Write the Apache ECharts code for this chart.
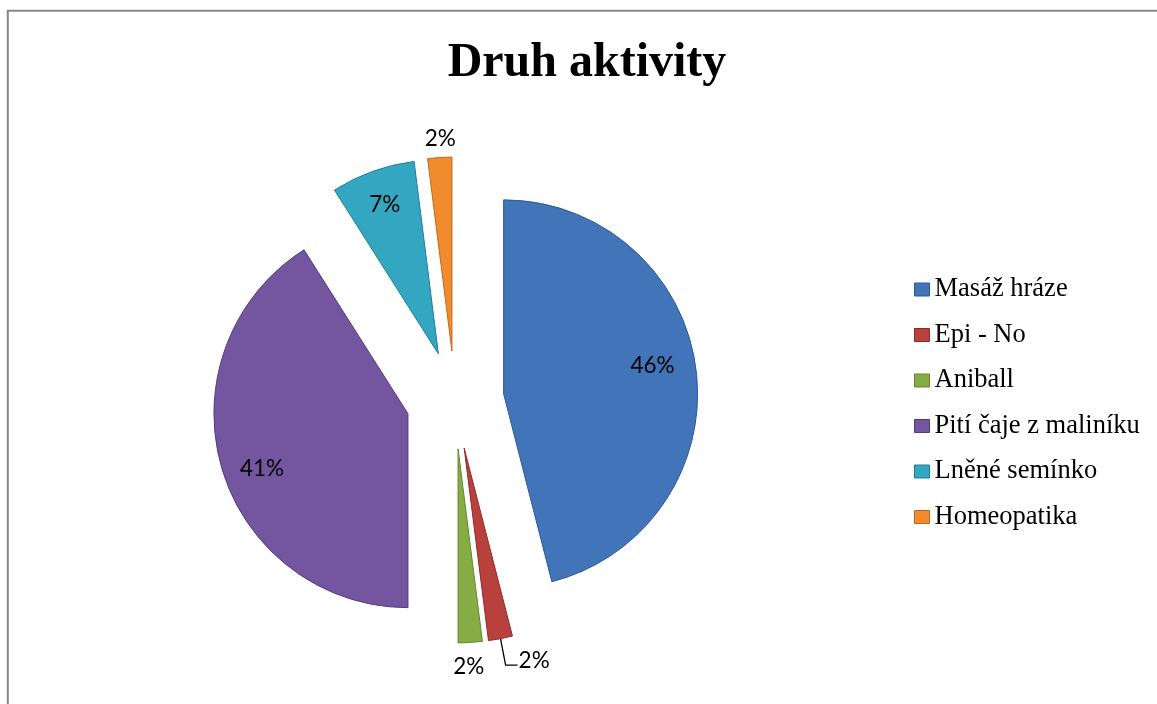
<!DOCTYPE html>
<html>
<head>
<meta charset="utf-8">
<script src="https://cdn.jsdelivr.net/npm/echarts@6/dist/echarts.min.js"></script>
<style>html,body{margin:0;padding:0;background:#fff}#c{width:1157px;height:704px}</style>
</head>
<body>
<div id="c"></div>
<script>
const categories = ['Masáž hráze', 'Epi - No', 'Aniball', 'Pití čaje z maliníku', 'Lněné semínko', 'Homeopatika'];
const values = [46, 2, 2, 41, 7, 2];
const colors = ['#4174B8', '#B8403D', '#86AD44', '#7456A0', '#33A6C2', '#F08C2E'];
const borders = ['#2E5A93', '#8E2B29', '#62852C', '#55397E', '#1F7E96', '#C06A18'];
const titleText = 'Druh aktivity';

const CX = 455, CY = 400, R = 194, OFF = 49;
// small per-label nudges [dx, dy] (styling only)
const nudge = [[-8, -8], [0, -4], [-3, 0], [6, 11], [0, 0], [2, 5]];
function pad(i) {
  const dx = nudge[i][0];
  return [0, dx < 0 ? -2 * dx : 0, 0, dx > 0 ? 2 * dx : 0];
}
function fmt(i) {
  const dy = nudge[i][1];
  return function (p) {
    const t = p.percent + '%';
    if (dy < 0) return t + '\n ';
    if (dy > 0) return ' \n' + t;
    return t;
  };
}
function lh(i) {
  const dy = Math.abs(nudge[i][1]);
  return dy ? 2 * dy : 27;
}
const chart = echarts.init(document.getElementById('c'));

function mkData(fn) {
  return categories.map((n, i) => Object.assign({ name: n, value: values[i], selected: true }, fn(i)));
}
const labelFont = { fontFamily: 'Lato', fontSize: 22.5, color: '#000' };
const clear = 'rgba(255,255,255,0)';

chart.setOption({
  animation: false,
  title: {
    text: titleText, left: 582, top: 35, textAlign: 'center',
    textStyle: { fontFamily: 'Liberation Serif', fontWeight: 'bold', fontSize: 48, color: '#000' }
  },
  legend: {
    orient: 'vertical', left: 909, top: 262, itemWidth: 15, itemHeight: 13, itemGap: 0.5,
    icon: 'rect', selectedMode: false,
    textStyle: { fontFamily: 'Liberation Serif', fontSize: 26.5, color: '#000', lineHeight: 45 },
    data: categories.map((n, i) => ({ name: n, itemStyle: { color: colors[i], borderColor: borders[i], borderWidth: 1 } }))
  },
  graphic: [{
    type: 'rect', shape: { x: 7.8, y: 10.8, width: 1170, height: 720 },
    style: { fill: 'none', stroke: '#878787', lineWidth: 2 }, silent: true
  }],
  series: [
    {
      type: 'pie', center: [CX, CY], radius: R, startAngle: 90, clockwise: true,
      selectedMode: 'multiple', selectedOffset: OFF, avoidLabelOverlap: false,
      percentPrecision: 0,
      emphasis: { disabled: true },
      label: { show: false },
      labelLine: { show: false },
      data: mkData(i => {
        const o = { itemStyle: { color: colors[i], borderColor: borders[i], borderWidth: 1 } };
        if (i === 1) {
          o.label = Object.assign({ show: true, position: 'outside', formatter: fmt(i), lineHeight: lh(i), distanceToLabelLine: 1 }, labelFont);
          o.labelLine = { show: true, length: 27, length2: 12, lineStyle: { color: '#000', width: 1.3 } };
        }
        return o;
      })
    },
    {
      type: 'pie', center: [CX, CY], radius: [R * 0.6, R], startAngle: 90, clockwise: true,
      selectedMode: 'multiple', selectedOffset: OFF, avoidLabelOverlap: false, silent: true,
      percentPrecision: 0, legendHoverLink: false,
      emphasis: { disabled: true },
      itemStyle: { color: clear, borderWidth: 0 },
      labelLine: { show: false },
      data: mkData(i => ({
        itemStyle: { color: clear },
        label: Object.assign({ show: values[i] > 5, position: 'inside', rotate: 0, formatter: fmt(i), lineHeight: lh(i), padding: pad(i) }, labelFont)
      }))
    },
    {
      type: 'pie', center: [CX, CY], radius: [R + 8, R + 34], startAngle: 90, clockwise: true,
      selectedMode: 'multiple', selectedOffset: OFF, avoidLabelOverlap: false, silent: true,
      percentPrecision: 0, legendHoverLink: false,
      emphasis: { disabled: true },
      itemStyle: { color: clear, borderWidth: 0 },
      labelLine: { show: false },
      data: mkData(i => ({
        itemStyle: { color: clear },
        label: Object.assign({ show: (i === 2 || i === 5), position: 'inside', rotate: 0, formatter: fmt(i), lineHeight: lh(i), padding: pad(i) }, labelFont)
      }))
    }
  ]
});
</script>
</body>
</html>
